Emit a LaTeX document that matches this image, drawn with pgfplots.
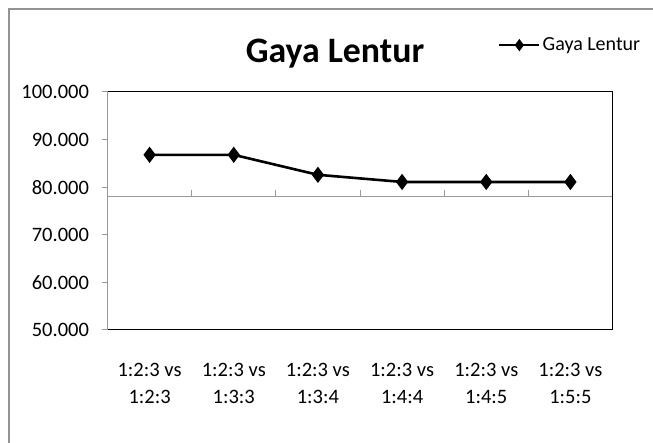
\documentclass[border=0pt]{standalone}
\usepackage{fontspec}
\setmainfont{Carlito}
\usepackage{pgfplots}
\pgfplotsset{compat=1.18}
\begin{document}
\begin{tikzpicture}[x=1pt,y=1pt]
\useasboundingbox (0,0) rectangle (653,443);
\draw[gray!85, line width=1.2pt] (9,-5) -- (9,434) -- (660,434);
\node[font=\bfseries\fontsize{35.8}{43}\selectfont] at (335,389.3) {Gaya Lentur};
\begin{axis}[
  at={(107.5pt,113pt)}, anchor=south west,
  width=505pt, height=238pt, scale only axis,
  xmin=-0.5, xmax=5.5, ymin=50, ymax=100,
  axis line style={draw=none},
  ytick={50,60,70,80,90,100},
  yticklabels={50.000,60.000,70.000,80.000,90.000,100.000},
  xtick={0,1,2,3,4,5},
  xticklabels={{1:2:3 vs\\1:2:3},{1:2:3 vs\\1:3:3},{1:2:3 vs\\1:3:4},{1:2:3 vs\\1:4:4},{1:2:3 vs\\1:4:5},{1:2:3 vs\\1:5:5}},
  xticklabel style={align=center, font=\fontsize{20.5}{27}\selectfont, anchor=north, yshift=-24pt},
  yticklabel style={font=\fontsize{20.5}{24}\selectfont, anchor=east, xshift=-9pt},
  ytick pos=left,
  tick align=outside,
  major tick length=6pt,
  every major x tick/.style={draw=none},
  every major y tick/.style={gray!80, line width=1pt},
  legend style={at={(axis description cs:0.773,1.197)}, anchor=west, draw=none, fill=none, inner sep=0pt, font=\fontsize{20}{24}\selectfont},
  legend cell align=left,
  legend image code/.code={\draw[mark repeat=2,mark phase=2,#1,line width=2.6pt,mark size=4pt] plot coordinates {(0pt,0pt) (20pt,0pt) (40pt,0pt)};},
  clip=false,
]
\draw[gray!80, line width=1pt] (axis cs:-0.5,78.1) -- (axis cs:5.5,78.1);
\draw[gray!80, line width=1pt] (axis cs:0.5,78.1) -- (axis cs:0.5,79.4);
\draw[gray!80, line width=1pt] (axis cs:1.5,78.1) -- (axis cs:1.5,79.4);
\draw[gray!80, line width=1pt] (axis cs:2.5,78.1) -- (axis cs:2.5,79.4);
\draw[gray!80, line width=1pt] (axis cs:3.5,78.1) -- (axis cs:3.5,79.4);
\draw[gray!80, line width=1pt] (axis cs:4.5,78.1) -- (axis cs:4.5,79.4);
\draw[gray!80, line width=1pt] (rel axis cs:0,0) -- (rel axis cs:0,1);
\draw[black, line width=1pt] (rel axis cs:0,1) -- (rel axis cs:1,1) -- (rel axis cs:1,0) -- (rel axis cs:0,0);
\addplot[black, line width=2.6pt, mark=diamond*, mark size=6pt, mark options={solid}] coordinates {
  (0,86.8) (1,86.8) (2,82.6) (3,81.1) (4,81.1) (5,81.1)
};
\addlegendentry{Gaya Lentur}
\end{axis}
\end{tikzpicture}
\end{document}
